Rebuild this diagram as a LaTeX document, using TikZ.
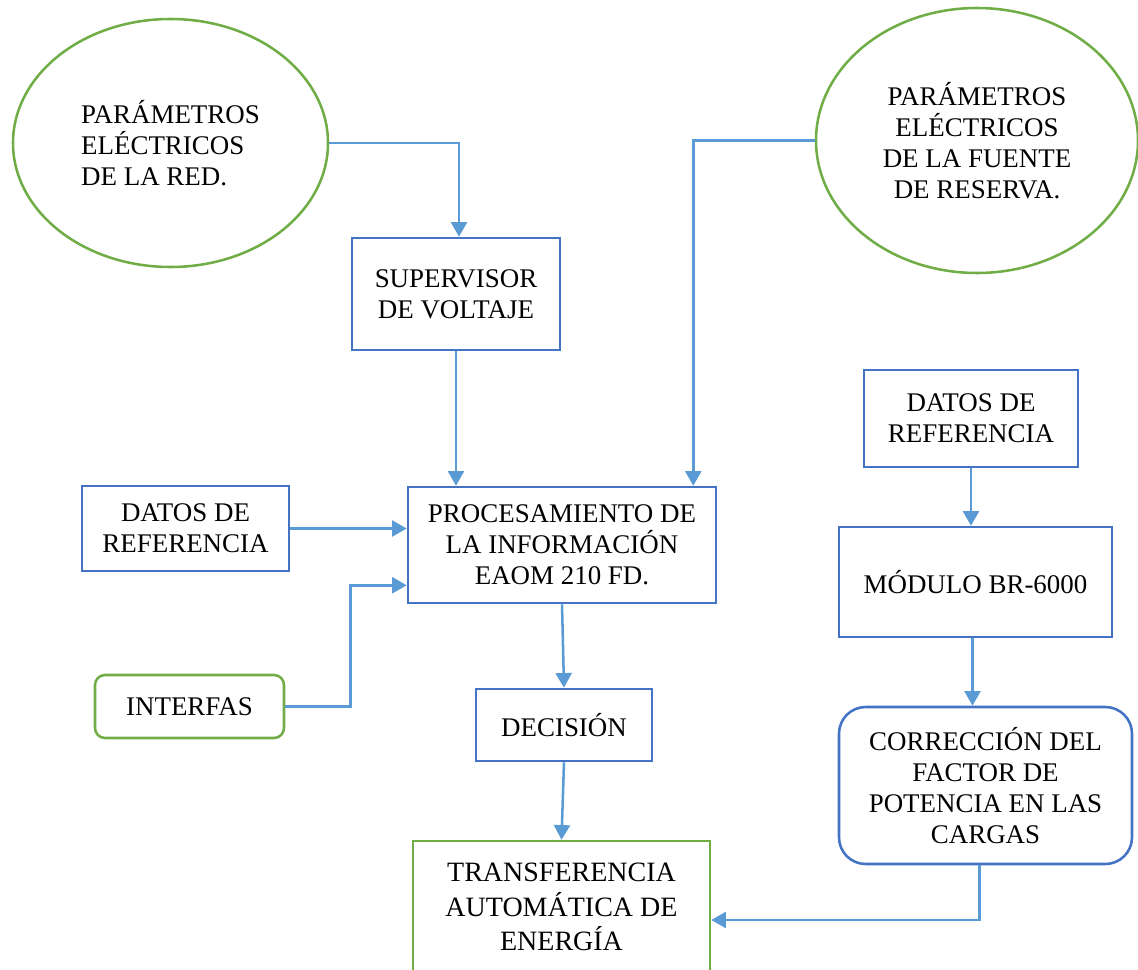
\documentclass[tikz,border=0pt]{standalone}
\usepackage{fontspec}
\setmainfont{Liberation Serif}
\usetikzlibrary{shapes.geometric,arrows.meta,calc}
\definecolor{boxblue}{HTML}{4472C4}
\definecolor{linkblue}{HTML}{5B9BD5}
\definecolor{boxgreen}{HTML}{70AD47}
\tikzset{
  txt/.style={font=\fontsize{20.2}{23.3}\selectfont, align=center, inner sep=0pt},
  bbox/.style={txt, draw=boxblue, line width=1.9pt, rectangle},
  gbox/.style={txt, draw=boxgreen, line width=1.9pt, rectangle},
  gell/.style={txt, draw=boxgreen, line width=1.9pt, ellipse},
  link/.style={draw=linkblue, line width=1.9pt, -{Triangle[width=12pt,length=11pt]}}
}
\begin{document}
\begin{tikzpicture}[x=0.75pt,y=-0.75pt]
\useasboundingbox (0,0) rectangle (1138,970);
\clip (0,0) rectangle (1138,970);
% ellipses
\node[gell, minimum width=236.25pt, minimum height=186pt, align=left] (e1) at (170.5,143)
  {PARÁMETROS\\ELÉCTRICOS\\DE LA RED.};
\node[gell, minimum width=241.5pt, minimum height=198.75pt] (e2) at (977,140.5)
  {PARÁMETROS\\ELÉCTRICOS\\DE LA FUENTE\\DE RESERVA.};
% boxes
\node[bbox, minimum width=156pt, minimum height=84pt] (sup) at (456,294) {SUPERVISOR\\DE VOLTAJE};
\node[bbox, minimum width=231pt, minimum height=87pt] (proc) at (562,545)
  {PROCESAMIENTO DE\\LA INFORMACIÓN\\EAOM 210 FD.};
\node[bbox, minimum width=155.25pt, minimum height=63.75pt] (dat1) at (185.5,528.5) {DATOS DE\\REFERENCIA};
\node[gbox, rounded corners=7.5pt, minimum width=141.75pt, minimum height=47.25pt] (inter) at (189.5,706.5) {INTERFAS};
\node[bbox, minimum width=132pt, minimum height=54pt] (dec) at (564,725) {DECISIÓN};
\node[gbox, font=\fontsize{21}{25.9}\selectfont, minimum width=222.75pt, minimum height=99pt] (trans) at (561.5,907)
  {TRANSFERENCIA\\AUTOMÁTICA DE\\ENERGÍA};
\node[bbox, minimum width=160.5pt, minimum height=72.75pt] (dat2) at (971,418.5) {DATOS DE\\REFERENCIA};
\node[bbox, minimum width=204.75pt, minimum height=82.5pt] (mod) at (975.5,582) {MÓDULO BR-6000};
\node[bbox, rounded corners=20pt, minimum width=219.75pt, minimum height=117.75pt] (corr) at (985.5,785.5)
  {CORRECCIÓN DEL\\FACTOR DE\\POTENCIA EN LAS\\CARGAS};
% connectors
\draw[link] (e1.east) -| ($(sup.north)+(3,0)$);
\draw[link] (e2.west) -| ($(proc.north east)+(-24,0)$);
\draw[link] (sup.south) -- (sup.south |- proc.north);
\draw[link] (dat1.east) -- (dat1.east -| proc.west);
\draw[link] (inter.east) -- ++(65,0) |- ($(proc.south west)+(0,-19)$);
\draw[link] (proc.south) -- (dec.north);
\draw[link] (dec.south) -- (trans.north);
\draw[link] (dat2.south) -- (dat2.south |- mod.north);
\draw[link] ($(mod.south)+(-3,0)$) -- ($(mod.south |- corr.north)+(-3,0)$);
\draw[link] ($(corr.south)+(-6,0)$) |- ($(trans.east)+(0,13)$);
\end{tikzpicture}
\end{document}
